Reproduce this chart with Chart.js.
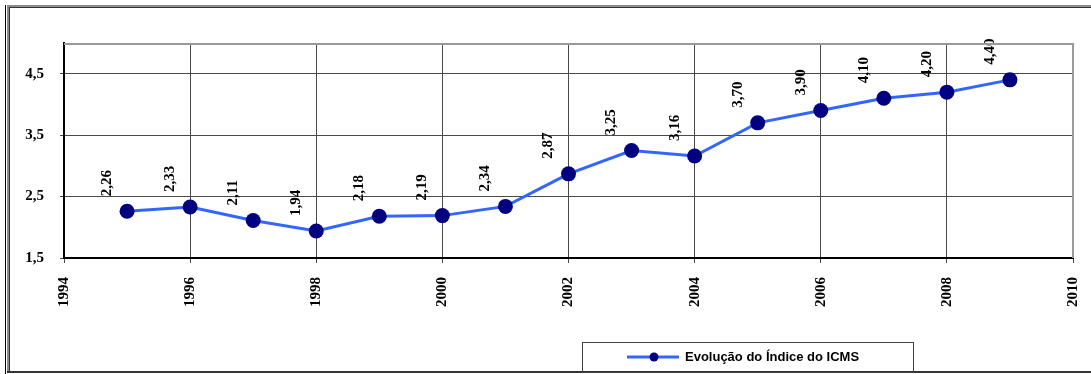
<!DOCTYPE html>
<html>
<head>
<meta charset="utf-8">
<title>Evolução do Índice do ICMS</title>
<script src="https://cdn.jsdelivr.net/npm/chart.js@4/dist/chart.umd.min.js"></script>
<style>
  html, body { margin: 0; padding: 0; background: #ffffff; }
  #wrap { width: 1091px; height: 374px; }
</style>
</head>
<body>
<div id="wrap"><canvas id="chart" width="1091" height="374"></canvas></div>
<script>
// Índice do ICMS, ano a ano
const years = [1995, 1996, 1997, 1998, 1999, 2000, 2001, 2002, 2003, 2004, 2005, 2006, 2007, 2008, 2009];
const icms  = [2.26, 2.33, 2.11, 1.94, 2.18, 2.19, 2.34, 2.87, 3.25, 3.16, 3.70, 3.90, 4.10, 4.20, 4.40];
const xTicks = [1994, 1996, 1998, 2000, 2002, 2004, 2006, 2008, 2010];
const yTicks = [1.5, 2.5, 3.5, 4.5];
const seriesName = 'Evolução do Índice do ICMS';

const fmt = (v, d) => v.toFixed(d).replace('.', ',');
const serif = '"Liberation Serif", "Times New Roman", serif';
const sans = '"Liberation Sans", Arial, sans-serif';

// Moldura externa, borda da área de plotagem, rótulos de dados e legenda
const decor = {
  id: 'decor',
  beforeDraw(chart) {
    const ctx = chart.ctx;
    ctx.save();
    ctx.fillStyle = '#ffffff';
    ctx.fillRect(0, 0, chart.width, chart.height);
    ctx.restore();
  },
  afterDatasetsDraw(chart) {
    const ctx = chart.ctx;
    const meta = chart.getDatasetMeta(0);
    ctx.save();
    ctx.font = 'bold 15px ' + serif;
    ctx.fillStyle = '#000000';
    ctx.textAlign = 'left';
    ctx.textBaseline = 'middle';
    meta.data.forEach((pt, i) => {
      ctx.save();
      ctx.translate(pt.x - 20, pt.y - 15);
      ctx.rotate(-Math.PI / 2);
      ctx.fillText(fmt(icms[i], 2), 0, 0);
      ctx.restore();
    });
    ctx.restore();
  },
  afterDraw(chart) {
    const ctx = chart.ctx;
    const a = chart.chartArea;
    ctx.save();
    // bordas superior e direita da área de plotagem
    ctx.strokeStyle = '#999999';
    ctx.lineWidth = 2;
    ctx.beginPath();
    ctx.moveTo(a.left, a.top + 1);
    ctx.lineTo(a.right, a.top + 1);
    ctx.lineTo(a.right, a.bottom);
    ctx.stroke();

    // moldura do gráfico
    ctx.fillStyle = '#000000';
    ctx.fillRect(5, 5, 1, 369);
    ctx.fillStyle = '#8c8c8c';
    ctx.fillRect(7, 5, 2, 368);
    ctx.fillRect(7, 5, 1084, 2);
    ctx.fillStyle = '#333333';
    ctx.fillRect(9, 7, 1, 365);
    ctx.fillRect(9, 7, 1082, 1);
    ctx.fillRect(7, 371, 1084, 2);

    // legenda
    ctx.fillStyle = '#ffffff';
    ctx.fillRect(583, 343, 330, 28);
    ctx.strokeStyle = '#404040';
    ctx.lineWidth = 1;
    ctx.strokeRect(582.5, 342.5, 331, 30);
    const ly = 357;
    ctx.strokeStyle = '#3366ff';
    ctx.lineWidth = 3;
    ctx.beginPath();
    ctx.moveTo(627, ly);
    ctx.lineTo(679, ly);
    ctx.stroke();
    ctx.fillStyle = '#000080';
    ctx.beginPath();
    ctx.arc(654, ly, 4.5, 0, Math.PI * 2);
    ctx.fill();
    ctx.fillStyle = '#000000';
    ctx.font = 'bold 13px ' + sans;
    ctx.textAlign = 'left';
    ctx.textBaseline = 'middle';
    ctx.fillText(seriesName, 685, ly + 0.5);
    ctx.restore();
  }
};

new Chart(document.getElementById('chart'), {
  type: 'line',
  data: {
    datasets: [{
      label: seriesName,
      data: years.map((yr, i) => ({ x: yr, y: icms[i] })),
      borderColor: '#3366ff',
      borderWidth: 3,
      backgroundColor: '#000080',
      pointBackgroundColor: '#000080',
      pointBorderColor: '#000080',
      pointBorderWidth: 0,
      pointRadius: 7.5,
      pointHoverRadius: 7.5,
      tension: 0,
      fill: false,
      clip: false
    }]
  },
  options: {
    responsive: false,
    animation: false,
    devicePixelRatio: 1,
    layout: { padding: { top: 43, right: 18, left: 0, bottom: 0 } },
    plugins: {
      legend: { display: false },
      tooltip: { enabled: false }
    },
    scales: {
      x: {
        type: 'linear',
        min: 1994,
        max: 2010,
        afterBuildTicks: s => { s.ticks = xTicks.map(v => ({ value: v })); },
        afterFit: s => { s.height = 116; s.paddingLeft = 0; s.paddingRight = 0; },
        ticks: {
          minRotation: 90,
          maxRotation: 90,
          autoSkip: false,
          padding: 14,
          color: '#000000',
          font: { family: serif, size: 15, weight: 'bold' },
          callback: v => String(v)
        },
        grid: { color: '#4a4a4a', lineWidth: 1, tickLength: 5 },
        border: { color: '#000000', width: 2 }
      },
      y: {
        min: 1.5,
        max: 5.0,
        afterBuildTicks: s => { s.ticks = yTicks.map(v => ({ value: v })); },
        afterFit: s => { s.width = 64; s.paddingTop = 0; s.paddingBottom = 0; },
        ticks: {
          padding: 16,
          color: '#000000',
          font: { family: serif, size: 15, weight: 'bold' },
          callback: v => fmt(v, 1)
        },
        grid: { color: '#4a4a4a', lineWidth: 1, tickLength: 4 },
        border: { color: '#000000', width: 2 }
      }
    }
  },
  plugins: [decor]
});
</script>
</body>
</html>
